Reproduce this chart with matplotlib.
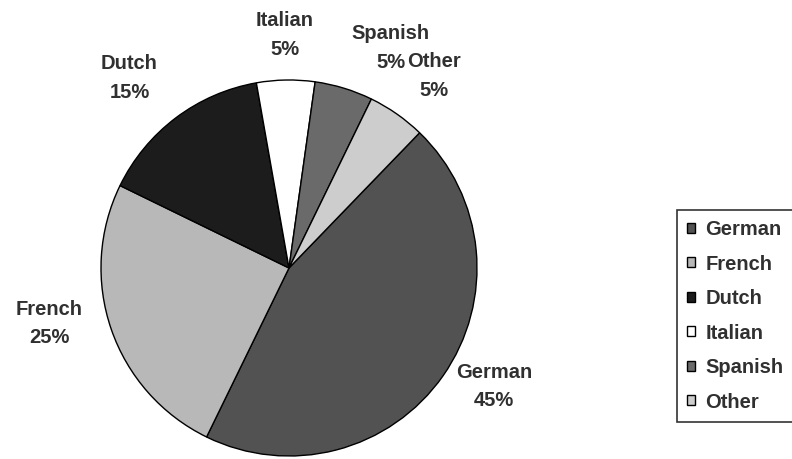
import numpy as np
import matplotlib.pyplot as plt

# languages and shares
languages = ["German", "French", "Dutch", "Italian", "Spanish", "Other"]
shares = [45, 25, 15, 5, 5, 5]
colors = ["#525252", "#b8b8b8", "#1c1c1c", "#ffffff", "#6a6a6a", "#cdcdcd"]

# label placement tweaks (degrees off the wedge middle, radius multiple)
label_nudge = [5, -6, 3, 0, -7.8, -2]
label_dist = [1.26, 1.31, 1.32, 1.24, 1.29, 1.28]

plt.rcParams['font.family'] = ['Liberation Sans', 'DejaVu Sans']
txt_color = "#303030"

fig = plt.figure(figsize=(7.92, 4.59), dpi=100)
W, H = 792, 459
cx, cy, r = 289, 268, 188
ax = fig.add_axes([(cx - r) / W, 1 - (cy + r) / H, 2 * r / W, 2 * r / H])

wedges, _ = ax.pie(shares, colors=colors, startangle=46, counterclock=False,
                   radius=1, wedgeprops=dict(edgecolor="black", linewidth=1))
lab_kw = dict(ha="center", va="center", textcoords="offset points",
              annotation_clip=False,
              fontsize=14.5, fontweight="bold", color=txt_color)
for w, n, v, dn, dd in zip(wedges, languages, shares, label_nudge, label_dist):
    mid = np.deg2rad((w.theta1 + w.theta2) / 2 + dn)
    pos = (dd * np.cos(mid), dd * np.sin(mid))
    ax.annotate(n, pos, xytext=(0, 10.3), **lab_kw)
    ax.annotate(f"{v}%", pos, xytext=(0, -10.3), **lab_kw)
ax.set_xlim(-1, 1)
ax.set_ylim(-1, 1)
ax.set_aspect("equal")

leg = fig.legend(wedges, languages, loc="upper left",
                 bbox_to_anchor=(677 / W, 1 - 418 / H, 160 / W, 208 / H),
                 mode="expand",
                 frameon=True, fancybox=False, edgecolor="black",
                 prop=dict(size=14.5, weight="bold"),
                 handlelength=0.4, handleheight=0.4,
                 handletextpad=0.5, labelspacing=0.77, borderpad=0.5,
                 borderaxespad=0)
leg.get_frame().set_linewidth(1.2)
for t in leg.get_texts():
    t.set_color(txt_color)

fig.savefig("out.png", dpi=100)
